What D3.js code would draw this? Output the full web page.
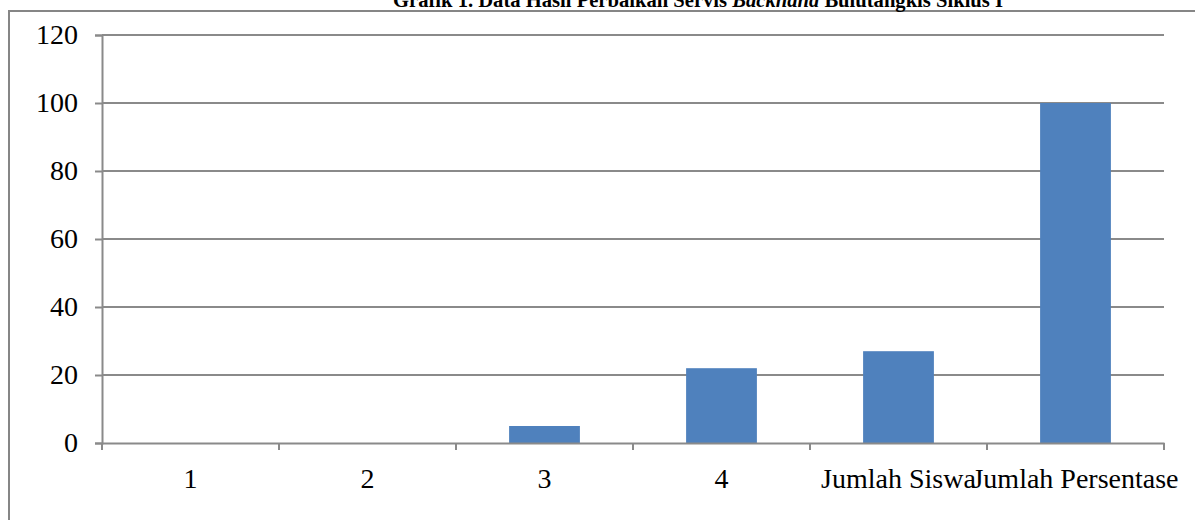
<!DOCTYPE html>
<html>
<head>
<meta charset="utf-8">
<script src="https://cdn.jsdelivr.net/npm/d3@7"></script>
<style>
  body { margin: 0; background: #fff; }
  svg { display: block; }
</style>
</head>
<body>
<script>
var categories = ["1", "2", "3", "4", "Jumlah Siswa", "Jumlah Persentase"];
var values = [0, 0, 5, 22, 27, 100];
var yTicks = [0, 20, 40, 60, 80, 100, 120];

var width = 1195, height = 520;
var plotLeft = 102, plotRight = 1164, plotTop = 35, plotBottom = 443;

var svg = d3.select("body").append("svg").attr("width", width).attr("height", height);

// chart frame (runs off the right and bottom edge)
svg.append("rect")
      .attr("x", 9).attr("y", 11)
      .attr("width", 1400).attr("height", 600)
      .attr("fill", "#fff")
      .attr("stroke", "#868686")
      .attr("stroke-width", 2);

svg.append("text")
      .attr("x", 698).attr("y", 7)
      .attr("text-anchor", "middle")
      .attr("font-family", "Liberation Serif")
      .attr("font-weight", "bold")
      .attr("font-size", 22)
      .attr("textLength", 610)
      .attr("lengthAdjust", "spacingAndGlyphs")
      .attr("fill", "#000")
      .call(function(t) {
        t.append("tspan").text("Grafik 1. Data Hasil Perbaikan Servis ");
        t.append("tspan").attr("font-style", "italic").text("Backhand");
        t.append("tspan").text(" Bulutangkis Siklus I");
      });

var x = d3.scaleBand().domain(categories).range([plotLeft, plotRight]).padding(0);
var y = d3.scaleLinear().domain([0, 120]).range([plotBottom, plotTop]);

// gridlines
svg.selectAll("line.grid")
      .data(yTicks.slice(1))
      .enter().append("line")
      .attr("class", "grid")
      .attr("x1", plotLeft).attr("x2", plotRight)
      .attr("y1", function(d) { return y(d); })
      .attr("y2", function(d) { return y(d); })
      .attr("stroke", "#8a8a8a")
      .attr("stroke-width", 2);

// bars, gap width 150%
svg.selectAll("rect.bar")
      .data(values)
      .enter().append("rect")
      .attr("class", "bar")
      .attr("x", function(d, i) { return x(categories[i]) + x.bandwidth() * 0.3; })
      .attr("width", x.bandwidth() * 0.4)
      .attr("y", function(d) { return y(d); })
      .attr("height", function(d) { return plotBottom - y(d); })
      .attr("fill", "#4f81bd");

var yAxis = svg.append("g")
      .attr("transform", "translate(" + plotLeft + ",0)")
      .call(d3.axisLeft(y).tickValues(yTicks).tickSize(7).tickPadding(17));

var xAxis = svg.append("g")
      .attr("transform", "translate(0," + plotBottom + ")")
      .call(d3.axisBottom(x).tickSize(0).tickPadding(25));

// category dividers on the x axis
xAxis.selectAll("line.div")
      .data(d3.range(categories.length + 1))
      .enter().append("line")
      .attr("class", "div")
      .attr("x1", function(d) { return plotLeft + d * x.step(); })
      .attr("x2", function(d) { return plotLeft + d * x.step(); })
      .attr("y1", 0).attr("y2", 7)
      .attr("stroke", "#8a8a8a")
      .attr("stroke-width", 2);

[yAxis, xAxis].forEach(function(g) {
  g.select(".domain").attr("stroke", "#8a8a8a").attr("stroke-width", 2);
  g.selectAll(".tick line").attr("stroke", "#8a8a8a").attr("stroke-width", 2);
  g.selectAll("text")
      .attr("font-family", "Liberation Serif")
      .attr("font-size", 28)
      .attr("fill", "#000");
});
xAxis.selectAll(".tick text").attr("dy", "0.71em");
</script>
</body>
</html>
